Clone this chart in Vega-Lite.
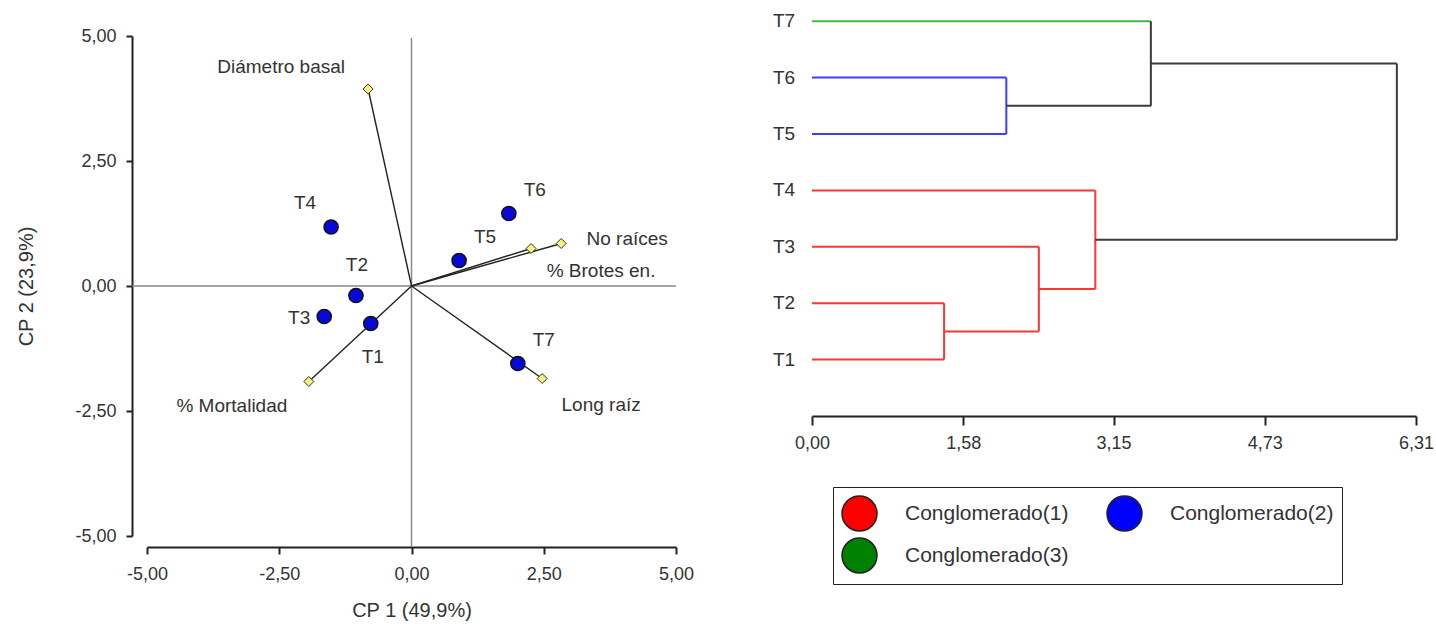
{
  "$schema": "https://vega.github.io/schema/vega-lite/v6.json",
  "background": "white",
  "padding": {"left": 16, "top": 12, "right": 5, "bottom": 5},
  "autosize": {"type": "pad"},
  "spacing": 136,
  "bounds": "flush",
  "config": {
    "font": "Liberation Sans",
    "view": {"stroke": null},
    "axis": {
      "grid": false,
      "domainColor": "#222",
      "tickColor": "#222",
      "domainWidth": 2,
      "tickWidth": 2,
      "labelColor": "#333",
      "titleColor": "#333",
      "labelFont": "Liberation Sans",
      "titleFont": "Liberation Sans",
      "titleFontWeight": "normal",
      "labelFontSize": 18,
      "titleFontSize": 20,
      "labelFlush": false
    },
    "text": {"font": "Liberation Sans", "fontSize": 19, "color": "#333"}
  },
  "datasets": {
    "refs": [
      {"x": -5.28, "x2": 5, "y": 0, "y2": 0},
      {"x": 0, "x2": 0, "y": 4.96, "y2": -5.22}
    ],
    "vars": [
      {"nombre": "Diámetro basal", "x0": 0, "y0": 0, "x": -0.82, "y": 3.94},
      {"nombre": "No raíces", "x0": 0, "y0": 0, "x": 2.83, "y": 0.85},
      {"nombre": "% Brotes en.", "x0": 0, "y0": 0, "x": 2.26, "y": 0.75},
      {"nombre": "% Mortalidad", "x0": 0, "y0": 0, "x": -1.94, "y": -1.91},
      {"nombre": "Long raíz", "x0": 0, "y0": 0, "x": 2.47, "y": -1.85}
    ],
    "trat": [
      {"nombre": "T1", "x": -0.77, "y": -0.75},
      {"nombre": "T2", "x": -1.05, "y": -0.19},
      {"nombre": "T3", "x": -1.65, "y": -0.61},
      {"nombre": "T4", "x": -1.52, "y": 1.18},
      {"nombre": "T5", "x": 0.9, "y": 0.51},
      {"nombre": "T6", "x": 1.84, "y": 1.45},
      {"nombre": "T7", "x": 2.01, "y": -1.55}
    ],
    "dendro": [
      {"cong": 1, "x1": 0, "x2": 1.38, "y1": 1, "y2": 1},
      {"cong": 1, "x1": 0, "x2": 1.38, "y1": 2, "y2": 2},
      {"cong": 1, "x1": 1.38, "x2": 1.38, "y1": 1, "y2": 2},
      {"cong": 1, "x1": 1.38, "x2": 2.37, "y1": 1.5, "y2": 1.5},
      {"cong": 1, "x1": 0, "x2": 2.37, "y1": 3, "y2": 3},
      {"cong": 1, "x1": 2.37, "x2": 2.37, "y1": 1.5, "y2": 3},
      {"cong": 1, "x1": 2.37, "x2": 2.96, "y1": 2.25, "y2": 2.25},
      {"cong": 1, "x1": 0, "x2": 2.96, "y1": 4, "y2": 4},
      {"cong": 1, "x1": 2.96, "x2": 2.96, "y1": 2.25, "y2": 4},
      {"cong": 2, "x1": 0, "x2": 2.03, "y1": 5, "y2": 5},
      {"cong": 2, "x1": 0, "x2": 2.03, "y1": 6, "y2": 6},
      {"cong": 2, "x1": 2.03, "x2": 2.03, "y1": 5, "y2": 6},
      {"cong": 3, "x1": 0, "x2": 3.54, "y1": 7, "y2": 7},
      {"cong": 0, "x1": 2.96, "x2": 6.11, "y1": 3.125, "y2": 3.125},
      {"cong": 0, "x1": 2.03, "x2": 3.54, "y1": 5.5, "y2": 5.5},
      {"cong": 0, "x1": 3.54, "x2": 3.54, "y1": 5.5, "y2": 7},
      {"cong": 0, "x1": 3.54, "x2": 6.11, "y1": 6.25, "y2": 6.25},
      {"cong": 0, "x1": 6.11, "x2": 6.11, "y1": 3.125, "y2": 6.25}
    ],
    "hojas": [
      {"nombre": "T1", "altura": 0, "pos": 1},
      {"nombre": "T2", "altura": 0, "pos": 2},
      {"nombre": "T3", "altura": 0, "pos": 3},
      {"nombre": "T4", "altura": 0, "pos": 4},
      {"nombre": "T5", "altura": 0, "pos": 5},
      {"nombre": "T6", "altura": 0, "pos": 6},
      {"nombre": "T7", "altura": 0, "pos": 7}
    ],
    "grupos": [
      {"g": "Conglomerado(1)"},
      {"g": "Conglomerado(2)"},
      {"g": "Conglomerado(3)"}
    ]
  },
  "hconcat": [
    {
      "width": 529,
      "height": 500,
      "layer": [
        {
          "data": {"name": "refs"},
          "mark": {"type": "rule", "color": "#8a8a8a", "strokeWidth": 1.5},
          "encoding": {
            "x": {"field": "x", "type": "quantitative", "scale": {"domain": [-5, 5], "nice": false},
              "axis": {"title": "CP 1 (49,9%)", "values": [-5, -2.5, 0, 2.5, 5], "labelExpr": "replace(replace(format(datum.value, '.2f'), '.', ','), '−', '-')", "offset": 11, "tickSize": 7, "labelPadding": 11, "titlePadding": 17}},
            "x2": {"field": "x2"},
            "y": {"field": "y", "type": "quantitative", "scale": {"domain": [-5, 5], "nice": false},
              "axis": {"title": "CP 2 (23,9%)", "values": [-5, -2.5, 0, 2.5, 5], "labelExpr": "replace(replace(format(datum.value, '.2f'), '.', ','), '−', '-')", "offset": 15, "tickSize": 6, "labelPadding": 10, "titlePadding": 38}},
            "y2": {"field": "y2"}
          }
        },
        {
          "data": {"name": "vars"},
          "mark": {"type": "rule", "color": "#222", "strokeWidth": 1.4},
          "encoding": {
            "x": {"field": "x0", "type": "quantitative"},
            "x2": {"field": "x"},
            "y": {"field": "y0", "type": "quantitative"},
            "y2": {"field": "y"}
          }
        },
        {
          "data": {"name": "vars"},
          "mark": {"type": "point", "shape": "diamond", "filled": true, "fill": "#f6f07c", "stroke": "#333", "strokeWidth": 1, "size": 100, "opacity": 1},
          "encoding": {
            "x": {"field": "x", "type": "quantitative"},
            "y": {"field": "y", "type": "quantitative"}
          }
        },
        {
          "data": {"name": "trat"},
          "mark": {"type": "point", "shape": "circle", "filled": true, "fill": "#0808d8", "stroke": "#111", "strokeWidth": 1.5, "size": 200, "opacity": 1},
          "encoding": {
            "x": {"field": "x", "type": "quantitative"},
            "y": {"field": "y", "type": "quantitative"}
          }
        },
        {
          "data": {"name": "trat"},
          "transform": [{"filter": {"field": "nombre", "oneOf": ["T5", "T6", "T7"]}}],
          "mark": {"type": "text", "dx": 26, "dy": -24, "align": "center", "baseline": "middle"},
          "encoding": {"x": {"field": "x", "type": "quantitative"}, "y": {"field": "y", "type": "quantitative"}, "text": {"field": "nombre"}}
        },
        {
          "data": {"name": "trat"},
          "transform": [{"filter": "datum.nombre === 'T4'"}],
          "mark": {"type": "text", "dx": -26, "dy": -24, "align": "center", "baseline": "middle"},
          "encoding": {"x": {"field": "x", "type": "quantitative"}, "y": {"field": "y", "type": "quantitative"}, "text": {"field": "nombre"}}
        },
        {
          "data": {"name": "trat"},
          "transform": [{"filter": "datum.nombre === 'T2'"}],
          "mark": {"type": "text", "dx": 1, "dy": -31, "align": "center", "baseline": "middle"},
          "encoding": {"x": {"field": "x", "type": "quantitative"}, "y": {"field": "y", "type": "quantitative"}, "text": {"field": "nombre"}}
        },
        {
          "data": {"name": "trat"},
          "transform": [{"filter": "datum.nombre === 'T3'"}],
          "mark": {"type": "text", "dx": -25, "dy": 1, "align": "center", "baseline": "middle"},
          "encoding": {"x": {"field": "x", "type": "quantitative"}, "y": {"field": "y", "type": "quantitative"}, "text": {"field": "nombre"}}
        },
        {
          "data": {"name": "trat"},
          "transform": [{"filter": "datum.nombre === 'T1'"}],
          "mark": {"type": "text", "dx": 2, "dy": 33, "align": "center", "baseline": "middle"},
          "encoding": {"x": {"field": "x", "type": "quantitative"}, "y": {"field": "y", "type": "quantitative"}, "text": {"field": "nombre"}}
        },
        {
          "data": {"name": "vars"},
          "transform": [{"filter": "datum.nombre === 'Diámetro basal'"}],
          "mark": {"type": "text", "dx": -87, "dy": -22, "align": "center", "baseline": "middle"},
          "encoding": {"x": {"field": "x", "type": "quantitative"}, "y": {"field": "y", "type": "quantitative"}, "text": {"field": "nombre"}}
        },
        {
          "data": {"name": "vars"},
          "transform": [{"filter": "datum.nombre === 'No raíces'"}],
          "mark": {"type": "text", "dx": 66, "dy": -5, "align": "center", "baseline": "middle"},
          "encoding": {"x": {"field": "x", "type": "quantitative"}, "y": {"field": "y", "type": "quantitative"}, "text": {"field": "nombre"}}
        },
        {
          "data": {"name": "vars"},
          "transform": [{"filter": "datum.nombre === '% Brotes en.'"}],
          "mark": {"type": "text", "dx": 70, "dy": 22, "align": "center", "baseline": "middle"},
          "encoding": {"x": {"field": "x", "type": "quantitative"}, "y": {"field": "y", "type": "quantitative"}, "text": {"field": "nombre"}}
        },
        {
          "data": {"name": "vars"},
          "transform": [{"filter": "datum.nombre === '% Mortalidad'"}],
          "mark": {"type": "text", "dx": -77, "dy": 24, "align": "center", "baseline": "middle"},
          "encoding": {"x": {"field": "x", "type": "quantitative"}, "y": {"field": "y", "type": "quantitative"}, "text": {"field": "nombre"}}
        },
        {
          "data": {"name": "vars"},
          "transform": [{"filter": "datum.nombre === 'Long raíz'"}],
          "mark": {"type": "text", "dx": 59, "dy": 26, "align": "center", "baseline": "middle"},
          "encoding": {"x": {"field": "x", "type": "quantitative"}, "y": {"field": "y", "type": "quantitative"}, "text": {"field": "nombre"}}
        }
      ]
    },
    {
      "width": 604,
      "height": 380,
      "layer": [
        {
          "data": {"name": "dendro"},
          "transform": [{"filter": "datum.cong > 0"}],
          "mark": {"type": "rule", "strokeWidth": 2},
          "encoding": {
            "x": {"field": "x1", "type": "quantitative", "scale": {"domain": [0, 6.31], "nice": false},
              "axis": {"title": null, "values": [0, 1.58, 3.15, 4.73, 6.31], "labelExpr": "replace(format(datum.value, '.2f'), '.', ',')", "tickSize": 9, "labelPadding": 9}},
            "x2": {"field": "x2"},
            "y": {"field": "y1", "type": "quantitative", "scale": {"domain": [0, 6.738], "nice": false}, "axis": null},
            "y2": {"field": "y2"},
            "color": {"field": "cong", "type": "nominal", "scale": {"domain": [1, 2, 3], "range": ["#ff3434", "#3c3cff", "#3fbb3f"]}, "legend": null}
          }
        },
        {
          "data": {"name": "dendro"},
          "transform": [{"filter": "datum.cong === 0"}],
          "mark": {"type": "rule", "strokeWidth": 2, "color": "#3a3a3a"},
          "encoding": {
            "x": {"field": "x1", "type": "quantitative"},
            "x2": {"field": "x2"},
            "y": {"field": "y1", "type": "quantitative"},
            "y2": {"field": "y2"}
          }
        },
        {
          "data": {"name": "hojas"},
          "mark": {"type": "text", "dx": -28, "align": "center", "baseline": "middle"},
          "encoding": {
            "x": {"field": "altura", "type": "quantitative"},
            "y": {"field": "pos", "type": "quantitative"},
            "text": {"field": "nombre"}
          }
        },
        {
          "data": {"name": "grupos"},
          "mark": {"type": "point", "shape": "circle", "filled": true, "opacity": 0},
          "encoding": {
            "fill": {"field": "g", "type": "nominal",
              "scale": {"domain": ["Conglomerado(1)", "Conglomerado(2)", "Conglomerado(3)"], "range": ["#ff0000", "#0000ff", "#008000"]},
              "legend": {"title": null, "orient": "none", "legendX": 686, "legendY": 451, "direction": "horizontal", "columns": 2, "symbolType": "circle", "symbolSize": 1225, "symbolStrokeColor": "#222", "symbolStrokeWidth": 1.5, "symbolOpacity": 1, "labelFontSize": 21, "labelFont": "Liberation Sans", "labelColor": "#333", "labelLimit": 0, "labelOffset": 27, "columnPadding": 35, "rowPadding": 1, "strokeColor": "#222", "padding": 8}}
          }
        }
      ]
    }
  ]
}
